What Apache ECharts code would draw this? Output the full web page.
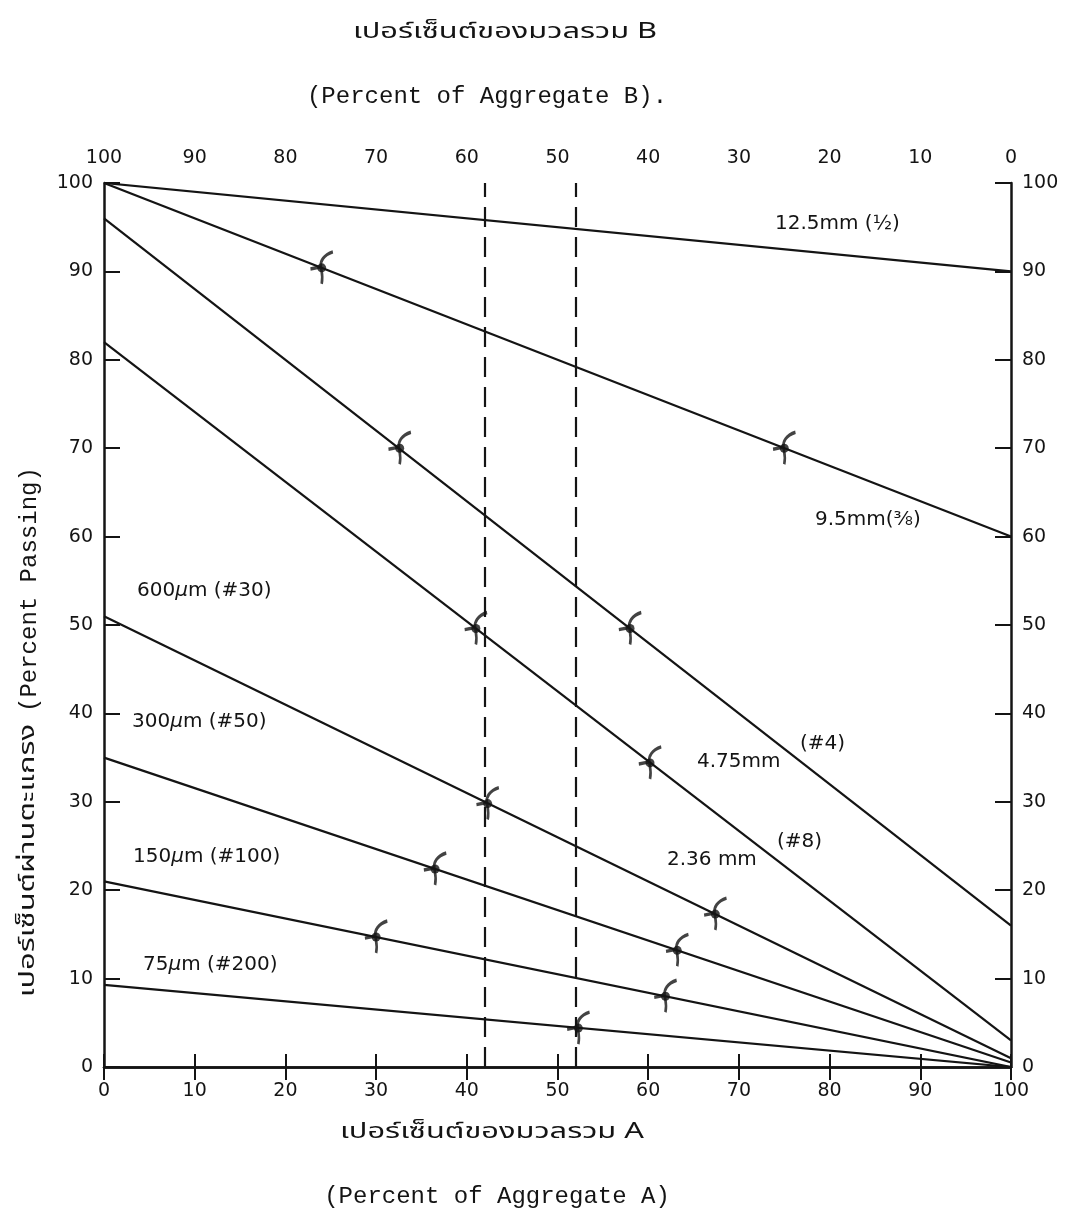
<!DOCTYPE html>
<html lang="th">
<head>
  <meta charset="UTF-8">
  <title>Percent of Aggregate A / B</title>
</head>
<body style="margin:0; background-color:#ffffff;">
<div id="main" style="width:1069px; height:1216px;"></div>

<script src="https://cdn.jsdelivr.net/npm/echarts@6/dist/echarts.min.js"></script>

<script>
  // ค่าที่อ่านจากกราฟ: เปอร์เซ็นต์ผ่านตะแกรง ที่ A = 0% และ A = 100%
  var sieveNames = ['12.5mm', '9.5mm', '4.75mm', '2.36mm', '600um', '300um', '150um', '75um'];
  var passAtA0   = [100, 100, 96, 82, 51, 35, 21, 9.3];
  var passAtA100 = [90, 60, 16, 3, 1, 0.5, 0, 0];

  // จุดที่ทำเครื่องหมายด้วยมือ [เปอร์เซ็นต์ A, เปอร์เซ็นต์ผ่าน]
  var limitMarks = [
    [24, 90.4], [75, 70],
    [32.6, 70], [58, 49.6],
    [41, 49.6], [60.2, 34.4],
    [42.3, 29.8], [67.4, 17.3],
    [36.5, 22.4], [63.2, 13.2],
    [30, 14.7], [61.9, 8],
    [52.3, 4.4]
  ];

  // เส้นประ (สัดส่วนที่เลือก)
  var chosenA = [42, 52];

  var chartDom = document.getElementById('main');
  var myChart = echarts.init(chartDom);

  var ink = '#141414';
  var monoFont = '"Liberation Mono", "DejaVu Sans Mono", monospace';
  var thaiFont = '"Noto Sans Thai", "Loma", "Garuda", "Tlwg Typo", "DejaVu Sans", sans-serif';
  var sansFont = '"DejaVu Sans", sans-serif';

  function axisCommon(extra) {
    return Object.assign({
      min: 0,
      max: 100,
      interval: 10,
      axisLine: { show: true, lineStyle: { color: ink, width: 2.5 } },
      axisTick: { show: true, inside: true, length: 13, lineStyle: { color: ink, width: 2 } },
      axisLabel: { color: ink, fontSize: 19, fontFamily: sansFont, margin: 15 },
      splitLine: { show: false }
    }, extra);
  }
  var yTick = { show: true, inside: true, length: 16, lineStyle: { color: ink, width: 2 } };

  var series = sieveNames.map(function (name, i) {
    return {
      name: name,
      type: 'line',
      symbol: 'none',
      silent: true,
      lineStyle: { color: ink, width: 2.2 },
      data: [[0, passAtA0[i]], [100, passAtA100[i]]]
    };
  });

  // เส้นประแนวตั้ง
  series.push({
    name: 'chosen',
    type: 'line',
    data: [],
    markLine: {
      silent: true,
      symbol: 'none',
      label: { show: false },
      lineStyle: { color: ink, width: 2.2, type: [20, 10] },
      data: chosenA.map(function (a) { return { xAxis: a }; })
    }
  });

  // เครื่องหมายขีดด้วยมือ
  series.push({
    name: 'marks',
    type: 'scatter',
    silent: true,
    z: 5,
    symbol: 'path://M20,0 C8,3 4,9 5,14 C6,19 8,23 6,30 M5,14 L-8,16',
    symbolSize: [24, 32],
    symbolKeepAspect: true,
    itemStyle: { color: 'transparent', borderColor: ink, borderWidth: 3 },
    data: limitMarks
  });
  series.push({
    name: 'marksDot',
    type: 'scatter',
    silent: true,
    z: 6,
    symbol: 'circle',
    symbolSize: 9,
    itemStyle: { color: ink },
    data: limitMarks
  });

  function lineLabel(x, y, text) {
    return {
      type: 'text',
      x: x,
      y: y,
      z: 10,
      style: {
        text: text,
        fill: ink,
        font: '20px ' + sansFont,
        verticalAlign: 'middle',
        backgroundColor: '#fff',
        rich: {
          mu: { fontStyle: 'italic', fontSize: 20, fontFamily: sansFont, fill: ink }
        }
      }
    };
  }

  // ข้อความภาษาไทยแบบพิมพ์ดีด: ตัวเล็กแต่กว้าง
  function thaiTitle(x, y, text) {
    return {
      type: 'text', x: x, y: y, scaleX: 1.4,
      style: { text: text, fill: ink, font: '22px ' + thaiFont, align: 'center', verticalAlign: 'middle' }
    };
  }

  var option = {
    backgroundColor: '#ffffff',
    animation: false,
    grid: { left: 104, right: 58, top: 183, bottom: 149 },
    xAxis: [
      axisCommon({ type: 'value', position: 'bottom' }),
      axisCommon({ type: 'value', position: 'top', inverse: true })
    ],
    yAxis: [
      axisCommon({ type: 'value', position: 'left', axisTick: yTick, axisLabel: { color: ink, fontSize: 19, fontFamily: sansFont, margin: 11 } }),
      axisCommon({ type: 'value', position: 'right', axisTick: yTick, axisLabel: { color: ink, fontSize: 19, fontFamily: sansFont, margin: 11 } })
    ],
    series: series,
    graphic: [
      thaiTitle(505, 34, 'เปอร์เซ็นต์ของมวลรวม B'),
      { type: 'text', x: 487, y: 97, style: { text: '(Percent of Aggregate B).', fill: ink, font: '24px ' + monoFont, align: 'center', verticalAlign: 'middle' } },
      thaiTitle(492, 1134, 'เปอร์เซ็นต์ของมวลรวม A'),
      { type: 'text', x: 497, y: 1197, style: { text: '(Percent of Aggregate A)', fill: ink, font: '24px ' + monoFont, align: 'center', verticalAlign: 'middle' } },
      {
        type: 'group', x: 30, y: 712, rotation: Math.PI / 2,
        children: [
          { type: 'text', x: -12, y: 0, scaleX: 1.4, style: { text: 'เปอร์เซ็นต์ผ่านตะแกรง', fill: ink, font: '22px ' + thaiFont, align: 'right', verticalAlign: 'middle' } },
          { type: 'text', x: 0, y: 0, style: { text: '(Percent Passing)', fill: ink, font: '24px ' + monoFont, align: 'left', verticalAlign: 'middle' } }
        ]
      },
      lineLabel(775, 224, '12.5mm (½)'),
      lineLabel(815, 520, '9.5mm(⅜)'),
      lineLabel(697, 762, '4.75mm'),
      lineLabel(800, 744, '(#4)'),
      lineLabel(667, 860, '2.36 mm'),
      lineLabel(777, 842, '(#8)'),
      lineLabel(137, 591, '600{mu|µ}m (#30)'),
      lineLabel(132, 722, '300{mu|µ}m (#50)'),
      lineLabel(133, 857, '150{mu|µ}m (#100)'),
      lineLabel(143, 965, '75{mu|µ}m (#200)')
    ]
  };

  myChart.setOption(option);
</script>
</body>
</html>
